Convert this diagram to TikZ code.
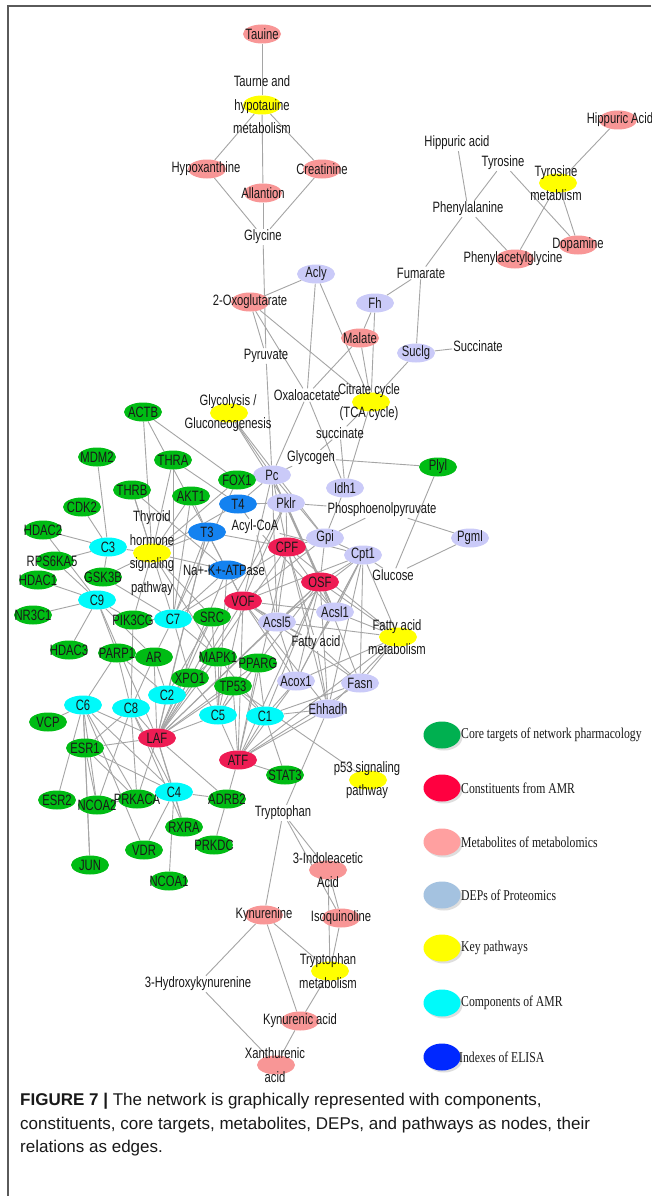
\documentclass[tikz,border=0pt]{standalone}
\usepackage{fontspec}
\setmainfont{Liberation Sans}
\newfontfamily\nf[FakeStretch=0.75]{Liberation Sans}
\newfontfamily\lf[FakeStretch=0.78]{Liberation Serif}
\newfontfamily\cf{Liberation Sans}
\usetikzlibrary{shapes.geometric,shadows}
\pgfdeclarelayer{bg}
\pgfsetlayers{bg,main}
\definecolor{cgreen}{RGB}{0,188,20}
\definecolor{cred}{RGB}{238,28,84}
\definecolor{cpink}{RGB}{248,150,150}
\definecolor{clav}{RGB}{202,202,248}
\definecolor{cyel}{RGB}{255,255,0}
\definecolor{ccyan}{RGB}{0,250,250}
\definecolor{cblue}{RGB}{20,130,240}
\definecolor{lgreen}{RGB}{0,176,80}
\definecolor{lred}{RGB}{255,0,64}
\definecolor{lpink}{RGB}{255,160,160}
\definecolor{lblue}{RGB}{164,194,224}
\definecolor{ldblue}{RGB}{0,40,255}
\definecolor{edgec}{RGB}{165,165,165}
\definecolor{txt}{RGB}{25,25,25}
\definecolor{framec}{RGB}{90,90,90}
\begin{document}
\begin{tikzpicture}[x=1pt,y=-1pt,
  base/.style={ellipse, minimum width=38pt, minimum height=19pt, inner sep=0pt},
  gN/.style={base, fill=cgreen},
  rN/.style={base, fill=cred},
  pN/.style={base, fill=cpink},
  lN/.style={base, fill=clav},
  yN/.style={base, fill=cyel},
  cN/.style={base, fill=ccyan},
  bN/.style={base, fill=cblue},
  lab/.style={font=\nf\fontsize{15}{23.5}\selectfont, inner sep=0pt, text=txt, align=center},
  tN/.style={font=\nf\fontsize{15}{23.5}\selectfont, inner sep=1pt, text=txt, align=center},
  edge/.style={draw=edgec, line width=0.9pt},
  legE/.style={ellipse, minimum width=37pt, minimum height=27pt, inner sep=0pt, drop shadow={shadow xshift=2pt, shadow yshift=-2pt, fill=black!25}},
  legT/.style={font=\lf\fontsize{15}{18}\selectfont, anchor=west, inner sep=0pt, text=txt}
]
\useasboundingbox (0,0) rectangle (651,1196);
\begin{pgfonlayer}{bg}
\fill[white] (0,0) rectangle (651,1196);
\end{pgfonlayer}
\draw[framec, line width=1.2pt] (651,6) -- (8,6) -- (8,1196);

% ---------- top ----------
\node[pN, label={[lab]center:Tauine}] (tau) at (262,34) {};
\node[yN, label={[lab]center:Taurne and\\hypotauine\\metabolism}] (tauhyp) at (262,105) {};
\node[pN, label={[lab,xshift=-1pt]center:Hypoxanthine}] (hypox) at (207,169) {};
\node[pN, label={[lab]center:Creatinine}] (creat) at (322,169) {};
\node[pN, label={[lab]center:Allantion}] (allan) at (263,193) {};
\node[tN] (gly) at (263,237) {Glycine};
\node[pN, label={[lab,xshift=2pt]center:Hippuric Acid}] (hipA) at (618,120) {};
\node[tN] (hipa) at (457,143) {Hippuric acid};
\node[tN] (tyr) at (503,163) {Tyrosine};
\node[yN, label={[lab,xshift=-2pt]center:Tyrosine\\metablism}] (tyrmet) at (558,183) {};
\node[tN] (phe) at (468,209) {Phenylalanine};
\node[pN, label={[lab]center:Dopamine}] (dopa) at (578,245) {};
\node[pN, label={[lab,xshift=-2pt]center:Phenylacetylglycine}] (phag) at (515,259) {};
\node[tN] (fum) at (421,273) {Fumarate};

% ---------- TCA ----------
\node[lN, label={[lab]center:Acly}] (acly) at (316,274) {};
\node[pN, label={[lab]center:2-Oxoglutarate}] (oxo) at (250,302) {};
\node[lN, label={[lab]center:Fh}] (fh) at (375,303) {};
\node[pN, label={[lab]center:Malate}] (mal) at (360,338) {};
\node[lN, label={[lab]center:Suclg}] (suclg) at (416,353) {};
\node[tN] (succ) at (478,346) {Succinate};
\node[tN] (pyr) at (266,356) {Pyruvate};
\node[tN] (oxa) at (307,395) {Oxaloacetate};
\node[yN, label={[lab,xshift=-2pt]center:Citrate cycle\\(TCA cycle)}] (tca) at (371,402) {};
\node[yN, label={[lab,xshift=-1pt]center:Glycolysis /\\Gluconeogenesis}] (glyc) at (229,413) {};
\node[tN] (succtwo) at (340,433) {succinate};
\node[tN] (glycog) at (311,458) {Glycogen};
\node[gN, label={[lab]center:Plyl}] (plyl) at (438,467) {};
\node[lN, label={[lab]center:Pc}] (pc) at (272,475) {};
\node[lN, label={[lab]center:Idh1}] (idh1) at (345,488) {};
\node[lN, label={[lab]center:Pklr}] (pklr) at (286,503) {};
\node[tN] (pep) at (382,510) {Phosphoenolpyruvate};
\node[tN] (acyl) at (255,527) {Acyl-CoA};
\node[lN, label={[lab]center:Gpi}] (gpi) at (325,538) {};
\node[lN, label={[lab]center:Pgml}] (pgml) at (470,538) {};
\node[rN, label={[lab]center:CPF}] (cpf) at (287,547) {};
\node[lN, label={[lab]center:Cpt1}] (cpt1) at (363,555) {};
\node[tN] (gluc) at (393,575) {Glucose};
\node[rN, label={[lab]center:OSF}] (osf) at (320,582) {};
\node[rN, label={[lab]center:VOF}] (vof) at (243,601) {};
\node[lN, label={[lab]center:Acsl1}] (acsl1) at (335,612) {};
\node[lN, label={[lab]center:Acsl5}] (acsl5) at (277,622) {};
\node[yN, label={[lab,xshift=-1pt]center:Fatty acid\\metabolism}] (fam) at (398,637) {};
\node[tN] (fa) at (316,643) {Fatty acid};
\node[lN, label={[lab]center:Acox1}] (acox1) at (296,681) {};
\node[lN, label={[lab]center:Fasn}] (fasn) at (360,683) {};
\node[lN, label={[lab]center:Ehhadh}] (ehh) at (328,709) {};
\node[gN, label={[lab]center:STAT3}] (stat3) at (285,775) {};
\node[yN, label={[lab,xshift=-1pt]center:p53 signaling\\pathway}] (p53) at (368,780) {};

% ---------- tryptophan ----------
\node[tN] (tryp) at (283,813) {Tryptophan};
\node[pN, label={[lab]center:3-Indoleacetic\\Acid}] (ind) at (328,870) {};
\node[pN, label={[lab]center:Kynurenine}] (kyn) at (264,915) {};
\node[pN, label={[lab]center:Isoquinoline}] (isoq) at (341,918) {};
\node[yN, label={[lab,xshift=-2pt]center:Tryptophan\\metabolism}] (trpmet) at (330,971) {};
\node[tN] (hk) at (198,984) {3-Hydroxykynurenine};
\node[pN, label={[lab]center:Kynurenic acid}] (kyna) at (300,1021) {};
\node[pN, label={[lab,xshift=-1pt]center:Xanthurenic\\acid}] (xan) at (276,1065) {};

% ---------- left cluster ----------
\node[gN, label={[lab]center:ACTB}] (actb) at (143,412) {};
\node[gN, label={[lab]center:MDM2}] (mdm2) at (97,457) {};
\node[gN, label={[lab]center:THRA}] (thra) at (173,460) {};
\node[gN, label={[lab]center:FOX1}] (fox1) at (237,480) {};
\node[gN, label={[lab]center:THRB}] (thrb) at (132,490) {};
\node[gN, label={[lab]center:AKT1}] (akt1) at (191,496) {};
\node[gN, label={[lab]center:CDK2}] (cdk2) at (82,507) {};
\node[bN, label={[lab]center:T4}] (t4) at (238,504) {};
\node[gN, label={[lab]center:HDAC2}] (hdac2) at (43,530) {};
\node[yN, label={[lab]center:Thyroid\\hormone\\signaling\\pathway}] (thy) at (152,553) {};
\node[bN, label={[lab]center:T3}] (t3) at (207,532) {};
\node[cN, label={[lab]center:C3}] (c3) at (108,547) {};
\node[gN, label={[lab,xshift=-3pt]center:RPS6KA5}] (rps) at (55,561) {};
\node[gN, label={[lab]center:GSK3B}] (gsk3b) at (103,577) {};
\node[gN, label={[lab]center:HDAC1}] (hdac1) at (38,580) {};
\node[bN, label={[lab,xshift=-3pt]center:Na+-K+-ATPase}] (nka) at (227,570) {};
\node[cN, label={[lab]center:C9}] (c9) at (97,600) {};
\node[gN, label={[lab]center:NR3C1}] (nr3c1) at (33,615) {};
\node[gN, label={[lab]center:PIK3CG}] (pik3cg) at (133,620) {};
\node[cN, label={[lab]center:C7}] (c7) at (173,619) {};
\node[gN, label={[lab]center:SRC}] (src) at (212,617) {};
\node[gN, label={[lab]center:HDAC3}] (hdac3) at (69,650) {};
\node[gN, label={[lab]center:PARP1}] (parp1) at (117,653) {};
\node[gN, label={[lab]center:AR}] (ar) at (154,657) {};
\node[gN, label={[lab]center:MAPK1}] (mapk1) at (218,657) {};
\node[gN, label={[lab]center:PPARG}] (pparg) at (258,663) {};
\node[gN, label={[lab]center:XPO1}] (xpo1) at (190,678) {};
\node[gN, label={[lab]center:TP53}] (tp53) at (233,686) {};
\node[cN, label={[lab]center:C2}] (c2) at (167,695) {};
\node[cN, label={[lab]center:C6}] (c6) at (83,705) {};
\node[cN, label={[lab]center:C8}] (c8) at (131,708) {};
\node[cN, label={[lab]center:C5}] (c5) at (218,715) {};
\node[cN, label={[lab]center:C1}] (c1) at (265,716) {};
\node[gN, label={[lab]center:VCP}] (vcp) at (48,722) {};
\node[rN, label={[lab]center:LAF}] (laf) at (157,738) {};
\node[gN, label={[lab]center:ESR1}] (esr1) at (85,748) {};
\node[rN, label={[lab]center:ATF}] (atf) at (238,760) {};
\node[gN, label={[lab]center:ESR2}] (esr2) at (57,800) {};
\node[gN, label={[lab]center:NCOA2}] (ncoa2) at (97,805) {};
\node[gN, label={[lab]center:PRKACA}] (prkaca) at (137,799) {};
\node[cN, label={[lab]center:C4}] (c4) at (174,792) {};
\node[gN, label={[lab]center:ADRB2}] (adrb2) at (227,799) {};
\node[gN, label={[lab]center:RXRA}] (rxra) at (184,827) {};
\node[gN, label={[lab]center:PRKDC}] (prkdc) at (214,845) {};
\node[gN, label={[lab]center:VDR}] (vdr) at (144,850) {};
\node[gN, label={[lab]center:JUN}] (jun) at (90,865) {};
\node[gN, label={[lab]center:NCOA1}] (ncoa1) at (169,881) {};

% ---------- edges ----------
\begin{pgfonlayer}{bg}
\foreach \a/\b in {tau/tauhyp, tauhyp/hypox, tauhyp/allan, tauhyp/creat, hypox/gly, allan/gly, creat/gly, gly/pyr,
  hipa/phe, tyr/phe, tyr/dopa, hipA/tyrmet, tyrmet/phag, tyrmet/dopa, phe/phag, phe/fum,
  acly/oxo, acly/oxa, acly/tca, oxo/pyr, oxo/tca, oxo/oxa, fum/fh, fum/suclg, fh/mal, fh/tca, mal/oxa, mal/tca,
  suclg/succ, suclg/tca, pyr/pc, oxa/pc, oxa/idh1, tca/succtwo, tca/idh1, succtwo/glycog, succtwo/idh1,
  glycog/pc, glycog/plyl, glyc/pc, glyc/pklr, glyc/gpi,
  plyl/gluc, pgml/gluc, pgml/pep, pklr/pep, gpi/pep, gpi/cpt1, gpi/idh1, cpt1/gluc, cpt1/fam,
  pc/gpi, pc/cpf, pc/vof, pc/osf, pc/acsl5, pc/fox1, pc/t4, pc/acsl1,
  pklr/cpf, pklr/osf, pklr/acsl1, pklr/vof, pklr/t4, pklr/laf,
  cpf/t3, cpf/acsl5, cpf/acsl1, cpf/fam, cpf/ehh, cpf/c7, cpf/gpi, cpf/fa, cpf/laf, cpf/atf,
  osf/cpt1, osf/fam, osf/acsl1, osf/acsl5, osf/acox1, osf/fasn, osf/ehh, osf/c5, osf/laf, osf/atf, osf/gpi, osf/c1,
  vof/acsl5, vof/acsl1, vof/fa, vof/gpi, vof/cpt1, vof/ehh, vof/acox1, vof/t3, vof/nka, vof/laf, vof/atf, vof/fasn,
  cpt1/acsl1, cpt1/acsl5, cpt1/fa, cpt1/ehh, cpt1/fasn, cpt1/acox1,
  acsl1/fam, acsl1/fa, acsl5/fam, acsl5/fa, acsl5/acox1, fa/fasn, fa/ehh, fa/acox1, fam/acox1, fam/fasn, fam/ehh,
  acyl/cpt1, acyl/acsl5, acyl/acsl1, acyl/t4,
  ehh/c1, ehh/atf, fasn/atf, acox1/atf, acox1/c1, fasn/c1, tryp/ehh, tp53/p53, stat3/c1, stat3/atf,
  tryp/kyn, tryp/ind, tryp/isoq, ind/isoq, ind/trpmet, isoq/trpmet, kyn/hk, kyn/kyna, kyn/trpmet, hk/xan, trpmet/kyna, kyna/xan,
  thy/actb, thy/thra, thy/thrb, thy/akt1, thy/fox1, thy/t3, thy/t4, thy/nka, thy/c3, thy/gsk3b, thy/pik3cg, thy/src, thy/mapk1,
  c3/mdm2, c3/cdk2, c3/rps, c3/gsk3b, c3/hdac2,
  c9/hdac2, c9/hdac1, c9/nr3c1, c9/rps, c9/hdac3, c9/parp1, c9/pik3cg, c9/ar, c9/laf,
  c7/thrb, c7/akt1, c7/fox1, c7/thra, c7/src, c7/pik3cg, c7/ar, c7/mapk1, c7/xpo1, c7/t3, c7/nka, c7/gsk3b,
  c2/ar, c2/xpo1, c2/mapk1, c2/parp1, c2/laf, c2/t3, c2/src,
  c6/parp1, c6/vcp, c6/esr1, c6/esr2, c6/ncoa2, c6/prkaca, c6/jun, c6/laf, c6/vdr,
  c8/laf, c8/esr1, c8/prkaca, c8/pik3cg, c8/parp1, c8/ar, c8/c4, c8/ncoa2, c8/rxra,
  c5/tp53, c5/mapk1, c5/laf, c5/xpo1, c5/atf, c5/pparg, c5/src, c5/nka, c5/vof,
  c1/pparg, c1/tp53, c1/atf, c1/mapk1,
  c4/esr1, c4/ncoa2, c4/prkaca, c4/rxra, c4/vdr, c4/ncoa1, c4/adrb2, c4/laf, c4/c6,
  laf/xpo1, laf/mapk1, laf/tp53, laf/src, laf/ar, laf/pparg, laf/acsl5, laf/t3, laf/nka, laf/esr1, laf/adrb2, laf/prkaca, laf/rxra,
  atf/pparg, atf/tp53, atf/adrb2, atf/fam, adrb2/prkdc, esr1/jun, esr1/ncoa2, esr1/prkaca,
  t3/nka, t3/akt1, thra/t4, actb/fox1, thrb/nka, actb/t3}
  \draw[edge] (\a) -- (\b);
\end{pgfonlayer}

% ---------- legend ----------
\node[legE, fill=lgreen] (lg1) at (442,735) {};
\node[legT] (lt1) at (461,735) {Core targets of network pharmacology};
\node[legE, fill=lred] (lg2) at (442,788) {};
\node[legT] (lt2) at (461,788) {Constituents from AMR};
\node[legE, fill=lpink] (lg3) at (442,842) {};
\node[legT] (lt3) at (461,842) {Metabolites of metabolomics};
\node[legE, fill=lblue] (lg4) at (442,895) {};
\node[legT] (lt4) at (461,895) {DEPs of Proteomics};
\node[legE, fill=cyel] (lg5) at (442,948) {};
\node[legT] (lt5) at (461,948) {Key pathways};
\node[legE, fill=ccyan] (lg6) at (442,1003) {};
\node[legT] (lt6) at (461,1003) {Components of AMR};
\node[legE, fill=ldblue] (lg7) at (442,1057) {};
\node[legT] (lt7) at (459,1057) {Indexes of ELISA};

% ---------- caption ----------
\node[anchor=north west, align=left, inner sep=0pt, text=txt, font=\cf\fontsize{17}{23.5}\selectfont] (cap) at (20,1093)
  {\textbf{FIGURE 7 |} The network is graphically represented with components,\\
   constituents, core targets, metabolites, DEPs, and pathways as nodes, their\\
   relations as edges.};
\end{tikzpicture}
\end{document}
